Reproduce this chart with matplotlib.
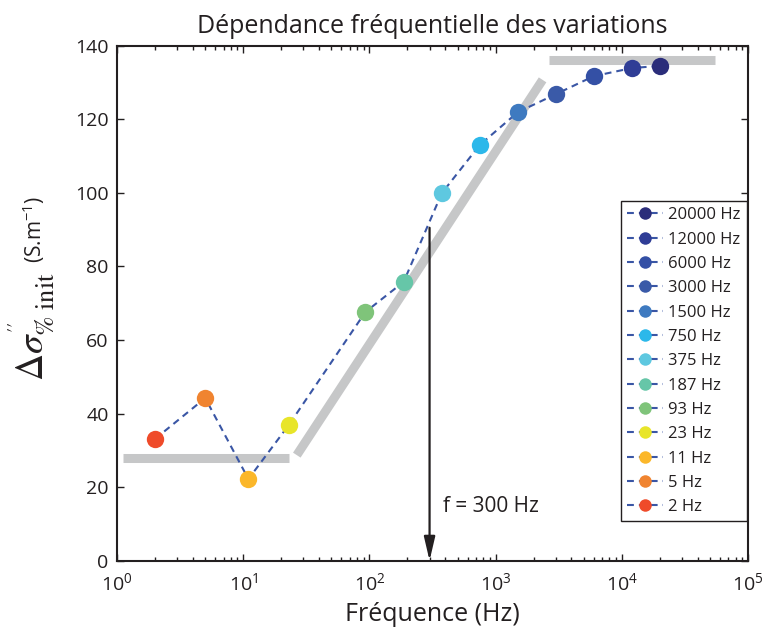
import matplotlib
matplotlib.use("Agg")
import matplotlib.pyplot as plt
import numpy as np

plt.rcParams['font.family'] = ['Open Sans', 'DejaVu Sans']

# Data
freqs = [2, 5, 11, 23, 93, 187, 375, 750, 1500, 3000, 6000, 12000, 20000]
values = [33.1, 44.2, 22.2, 36.9, 67.6, 75.8, 99.9, 113.0, 121.9, 126.8, 131.7, 133.9, 134.5]
labels = ["2 Hz", "5 Hz", "11 Hz", "23 Hz", "93 Hz", "187 Hz", "375 Hz", "750 Hz",
          "1500 Hz", "3000 Hz", "6000 Hz", "12000 Hz", "20000 Hz"]
colors = ["#ef4b2a", "#f08430", "#fbb72a", "#e8e52a", "#7fc47a", "#66c6a8", "#5ec8e0",
          "#2cb8ea", "#3e7ac0", "#3a5aa8", "#3450a5", "#2f3d96", "#2b2d7a"]

# Grey guide segments (asymptotes)
low_x = [1.12, 23]
low_y = [27.9, 27.9]
slope_x = [26.6, 2360]
slope_y = [28.7, 130.7]
high_x = [2630, 55300]
high_y = [136.2, 136.2]

arrow_f = 300
arrow_top = 90.5

fig = plt.figure(figsize=(7.75, 6.34), dpi=100)
ax = fig.add_axes([0.151, 0.1156, 0.814, 0.8124])

grey = "#c6c7c8"
for xs, ys in [(low_x, low_y), (slope_x, slope_y), (high_x, high_y)]:
    ax.plot(xs, ys, color=grey, lw=6.5, solid_capstyle='butt', zorder=1)

line_color = "#3a56a5"
ax.plot(freqs, values, color=line_color, lw=1.5, dashes=(3.3, 2.4), zorder=2)

handles = []
for f, v, c, lab in zip(freqs, values, colors, labels):
    ax.plot([f], [v], 'o', color=c, markersize=12.5, markeredgewidth=0, zorder=3)
    h, = ax.plot([], [], color=line_color, lw=1.5, dashes=(3.3, 2.4), marker='o',
                 markerfacecolor=c, markeredgewidth=0, markersize=12.5, label=lab)
    handles.append(h)

ax.annotate("", xy=(arrow_f, 0), xytext=(arrow_f, arrow_top),
            arrowprops=dict(arrowstyle='-|>,head_width=0.28,head_length=1.2', color='#231f20', lw=1.6,
                            mutation_scale=12, shrinkA=0, shrinkB=0), zorder=4)
ax.text(381, 14.6, "f = 300 Hz", fontsize=15, color='#231f20', va='center', ha='left')

ax.set_xscale('log')
ax.set_xlim(1, 1e5)
ax.set_ylim(0, 140)
ax.set_xticks([1, 10, 100, 1000, 10000, 100000])
ax.set_xticklabels([r"$\mathregular{10^{%d}}$" % i for i in range(6)])
ax.set_yticks(np.arange(0, 141, 20))
ax.tick_params(axis='both', which='both', direction='in', top=True, right=True,
               labelsize=14, colors='#231f20', width=1)
ax.tick_params(which='major', length=5)
ax.tick_params(which='minor', length=3)
ax.tick_params(axis='x', pad=8)
ax.tick_params(axis='y', pad=6)
for s in ax.spines.values():
    s.set_linewidth(1.5)
    s.set_color('#231f20')

ax.set_title("Dépendance fréquentielle des variations", fontsize=18, color='#231f20', pad=9)
ax.set_xlabel("Fréquence (Hz)", fontsize=18, color='#231f20', labelpad=6)

fig.text(44/775, (634-381)/634, r"$\Delta\sigma^{''}_{\%\ \mathrm{init}}$",
         fontsize=27, rotation=90, rotation_mode='anchor', ha='left', va='baseline',
         math_fontfamily='stix', color='#231f20')
fig.text(42/775, (634-263)/634, r"(S.m$^{\mathregular{-1}}$)", fontsize=15, rotation=90,
         rotation_mode='anchor', ha='left', va='baseline', color='#231f20')

leg = ax.legend(handles=handles[::-1], loc='lower right', bbox_to_anchor=(0.998, 0.077),
                borderaxespad=0, fontsize=12, markerscale=0.72, handlelength=2.2,
                handletextpad=0.3, labelspacing=0.5, fancybox=False, framealpha=1,
                edgecolor='#231f20', borderpad=0.35)
leg.get_frame().set_linewidth(1.0)
for t in leg.get_texts():
    t.set_color('#231f20')

fig.savefig("out.png", dpi=100)
